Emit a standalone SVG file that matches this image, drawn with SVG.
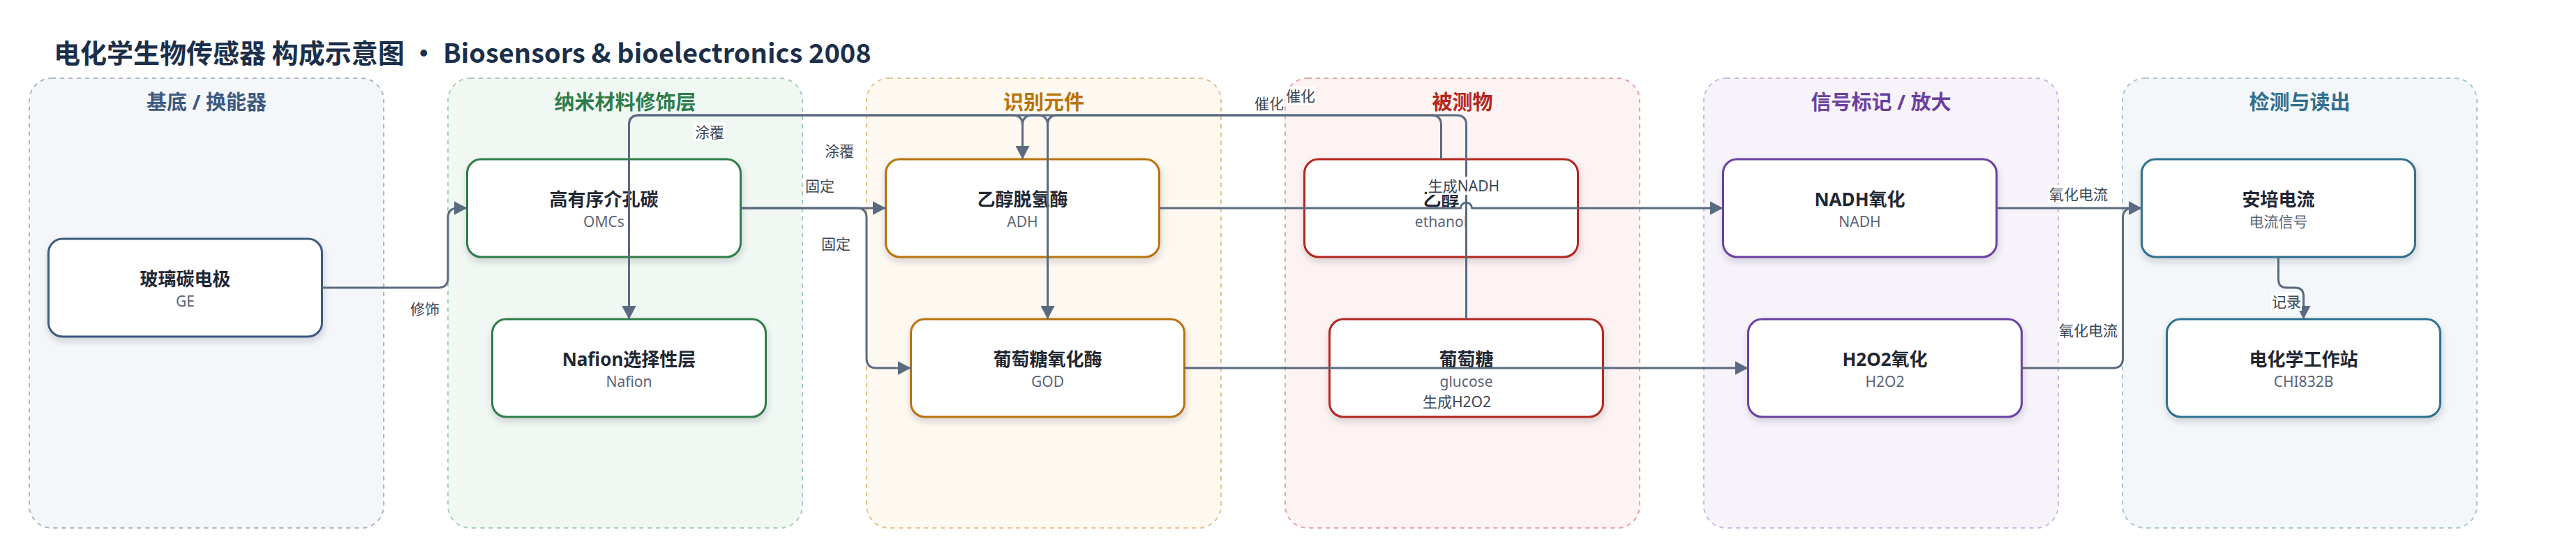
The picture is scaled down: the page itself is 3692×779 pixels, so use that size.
<svg xmlns="http://www.w3.org/2000/svg" width="3692" height="779" viewBox="0 0 3692 779">
<style>
.grp{stroke-width:2;stroke-dasharray:6 6}
.gt{font-family:"Noto Sans","Noto Sans CJK SC",sans-serif;font-weight:700;font-size:29px;text-anchor:middle}
.nd{fill:#fff;stroke-width:3}
.nt{font-family:"Noto Sans","Noto Sans CJK SC",sans-serif;font-weight:700;font-size:26px;fill:#1f2733;text-anchor:middle}
.ns{font-family:"Noto Sans","Noto Sans CJK SC",sans-serif;font-size:21px;fill:#5a6577;text-anchor:middle}
.cn{fill:none;stroke:#5a6a80;stroke-width:3;stroke-linejoin:round}
.arr{marker-end:url(#ah)}
.lb{font-family:"Noto Sans","Noto Sans CJK SC",sans-serif;font-size:21px;fill:#3b4656;text-anchor:middle;dominant-baseline:central}
.lbg{fill:#fff;fill-opacity:0.92}
</style>
<defs>
<marker id="ah" markerUnits="userSpaceOnUse" markerWidth="20" markerHeight="20" refX="19" refY="10" orient="auto">
<path d="M0,0 L19,10 L0,20 z" fill="#5a6a80"/>
</marker>
<filter id="sh" x="-10%" y="-20%" width="120%" height="150%">
<feDropShadow dx="1" dy="5" stdDeviation="5" flood-color="#1e293b" flood-opacity="0.18"/>
</filter>
</defs>
<rect width="3692" height="779" fill="#fff"/>
<text x="77" y="90" font-family="'Noto Sans CJK SC',sans-serif" font-weight="700" font-size="38" fill="#1b2f4b">电化学生物传感器 构成示意图 · Biosensors &amp; bioelectronics 2008</text>

<g id="group-substrate">
<rect class="grp" x="42" y="112" width="508" height="644" rx="32" fill="#f4f6fa" stroke="#a9b6c8"/>
<text class="gt" x="296" y="157" fill="#3d5a80">基底 / 换能器</text>
</g>
<g id="group-nano">
<rect class="grp" x="642" y="112" width="508" height="644" rx="32" fill="#f1f8f3" stroke="#a6cfb3"/>
<text class="gt" x="896" y="157" fill="#2e7d4a">纳米材料修饰层</text>
</g>
<g id="group-recog">
<rect class="grp" x="1242" y="112" width="508" height="644" rx="32" fill="#fdf8f0" stroke="#e5c28a"/>
<text class="gt" x="1496" y="157" fill="#b8730a">识别元件</text>
</g>
<g id="group-analyte">
<rect class="grp" x="1842" y="112" width="508" height="644" rx="32" fill="#fdf3f2" stroke="#e7a3a3"/>
<text class="gt" x="2096" y="157" fill="#b3261e">被测物</text>
</g>
<g id="group-signal">
<rect class="grp" x="2442" y="112" width="508" height="644" rx="32" fill="#f7f3fb" stroke="#cdb6e3"/>
<text class="gt" x="2696" y="157" fill="#6b3fa0">信号标记 / 放大</text>
</g>
<g id="group-detect">
<rect class="grp" x="3042" y="112" width="508" height="644" rx="32" fill="#f3f7f9" stroke="#a9c5d3"/>
<text class="gt" x="3296" y="157" fill="#2f6f8f">检测与读出</text>
</g>

<g id="node-GE">
<rect class="nd" filter="url(#sh)" x="69.5" y="342" width="392" height="140" rx="20" stroke="#3d5a80"/>
<text class="nt" x="265.5" y="409">玻璃碳电极</text>
<text class="ns" x="265.5" y="439">GE</text>
</g>
<g id="node-OMCs">
<rect class="nd" filter="url(#sh)" x="669.5" y="228" width="392" height="140" rx="20" stroke="#2e7d4a"/>
<text class="nt" x="865.5" y="295">高有序介孔碳</text>
<text class="ns" x="865.5" y="325">OMCs</text>
</g>
<g id="node-Nafion">
<rect class="nd" filter="url(#sh)" x="705.5" y="457" width="392" height="140" rx="20" stroke="#2e7d4a"/>
<text class="nt" x="901.5" y="524">Nafion选择性层</text>
<text class="ns" x="901.5" y="554">Nafion</text>
</g>
<g id="node-ADH">
<rect class="nd" filter="url(#sh)" x="1269.5" y="228" width="392" height="140" rx="20" stroke="#b8730a"/>
<text class="nt" x="1465.5" y="295">乙醇脱氢酶</text>
<text class="ns" x="1465.5" y="325">ADH</text>
</g>
<g id="node-GOD">
<rect class="nd" filter="url(#sh)" x="1305.5" y="457" width="392" height="140" rx="20" stroke="#b8730a"/>
<text class="nt" x="1501.5" y="524">葡萄糖氧化酶</text>
<text class="ns" x="1501.5" y="554">GOD</text>
</g>
<g id="node-ethanol">
<rect class="nd" filter="url(#sh)" x="1869.5" y="228" width="392" height="140" rx="20" stroke="#b3261e"/>
<text class="nt" x="2065.5" y="295">乙醇</text>
<text class="ns" x="2065.5" y="325">ethanol</text>
</g>
<g id="node-glucose">
<rect class="nd" filter="url(#sh)" x="1905.5" y="457" width="392" height="140" rx="20" stroke="#b3261e"/>
<text class="nt" x="2101.5" y="524">葡萄糖</text>
<text class="ns" x="2101.5" y="554">glucose</text>
</g>
<g id="node-NADH">
<rect class="nd" filter="url(#sh)" x="2469.5" y="228" width="392" height="140" rx="20" stroke="#6b3fa0"/>
<text class="nt" x="2665.5" y="295">NADH氧化</text>
<text class="ns" x="2665.5" y="325">NADH</text>
</g>
<g id="node-H2O2">
<rect class="nd" filter="url(#sh)" x="2505.5" y="457" width="392" height="140" rx="20" stroke="#6b3fa0"/>
<text class="nt" x="2701.5" y="524">H2O2氧化</text>
<text class="ns" x="2701.5" y="554">H2O2</text>
</g>
<g id="node-amp">
<rect class="nd" filter="url(#sh)" x="3069.5" y="228" width="392" height="140" rx="20" stroke="#2f6f8f"/>
<text class="nt" x="3265.5" y="295">安培电流</text>
<text class="ns" x="3265.5" y="325">电流信号</text>
</g>
<g id="node-CHI">
<rect class="nd" filter="url(#sh)" x="3105.5" y="457" width="392" height="140" rx="20" stroke="#2f6f8f"/>
<text class="nt" x="3301.5" y="524">电化学工作站</text>
<text class="ns" x="3301.5" y="554">CHI832B</text>
</g>

<g id="connectors">
<path class="cn arr" d="M461.5,412 L628,412 Q642,412 642,398 L642,312 Q642,298 656,298 L669.5,298"/>
<path class="cn arr" d="M1061.5,298 L1269.5,298"/>
<path class="cn arr" d="M1061.5,298 L1228,298 Q1242,298 1242,312 L1242,513 Q1242,527 1256,527 L1305.5,527"/>
<path class="cn arr" d="M1465.5,228 L1465.5,179 Q1465.5,165 1451.5,165 L915.5,165 Q901.5,165 901.5,179 L901.5,457"/>
<path class="cn arr" d="M1501.5,457 L1501.5,179 Q1501.5,165 1487.5,165 L915.5,165 Q901.5,165 901.5,179 L901.5,457"/>
<path class="cn arr" d="M2065.5,228 L2065.5,179 Q2065.5,165 2051.5,165 L1479.5,165 Q1465.5,165 1465.5,179 L1465.5,228"/>
<path class="cn arr" d="M2101.5,457 L2101.5,179 Q2101.5,165 2087.5,165 L1515.5,165 Q1501.5,165 1501.5,179 L1501.5,457"/>
<path class="cn arr" d="M1661.5,298 L2093.5,298 A8,8 0 0 1 2109.5,298 L2469.5,298"/>
<path class="cn arr" d="M1697.5,527 L2505.5,527"/>
<path class="cn arr" d="M2861.5,298 L3069.5,298"/>
<path class="cn arr" d="M2897.5,527 L3028.5,527 Q3042.5,527 3042.5,513 L3042.5,312 Q3042.5,298 3056.5,298 L3069.5,298"/>
<path class="cn arr" d="M3265.5,368 L3265.5,400 Q3265.5,412 3277.5,412 L3289.5,412 Q3301.5,412 3301.5,424 L3301.5,457"/>
</g>

<g id="labels">
<rect class="lbg" x="587" y="429" width="44" height="26"/><text class="lb" x="609" y="442">修饰</text>
<rect class="lbg" x="1153" y="253" width="44" height="26"/><text class="lb" x="1175" y="266">固定</text>
<rect class="lbg" x="1176" y="336" width="44" height="26"/><text class="lb" x="1198" y="349">固定</text>
<rect class="lbg" x="995" y="176" width="44" height="26"/><text class="lb" x="1017" y="189">涂覆</text>
<rect class="lbg" x="1181" y="203" width="44" height="26"/><text class="lb" x="1203" y="216">涂覆</text>
<rect class="lbg" x="1797" y="135" width="44" height="26"/><text class="lb" x="1819" y="148">催化</text>
<rect class="lbg" x="1842" y="124" width="44" height="26"/><text class="lb" x="1864" y="137">催化</text>
<rect class="lbg" x="2045" y="253" width="106" height="26"/><text class="lb" x="2098" y="266">生成NADH</text>
<rect class="lbg" x="2037" y="562" width="102" height="26"/><text class="lb" x="2088" y="575">生成H2O2</text>
<rect class="lbg" x="2935" y="265" width="88" height="26"/><text class="lb" x="2979" y="278">氧化电流</text>
<rect class="lbg" x="2949" y="460" width="88" height="26"/><text class="lb" x="2993" y="473">氧化电流</text>
<rect class="lbg" x="3255" y="419" width="44" height="26"/><text class="lb" x="3277" y="432">记录</text>
</g>
</svg>
